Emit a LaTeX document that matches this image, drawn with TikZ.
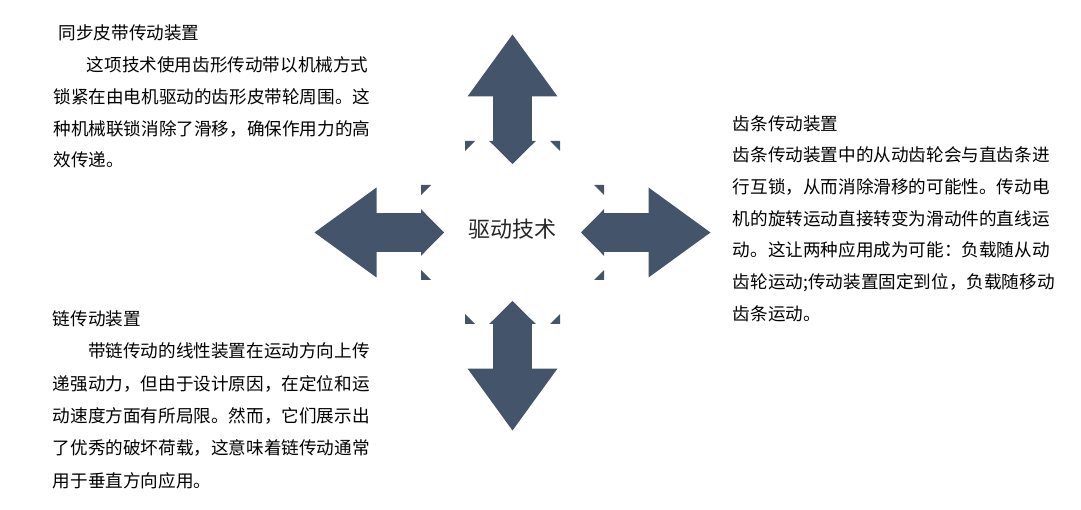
\documentclass[tikz,border=0pt]{standalone}
\usepackage{fontspec}
\setmainfont{Noto Sans CJK SC}
\definecolor{arrowblue}{HTML}{44546A}
\begin{document}
\begin{tikzpicture}[x=1pt,y=1pt,
  txt/.style={anchor=north west,inner sep=0pt,align=left,font=\fontsize{17.6}{31.7}\selectfont}]
\useasboundingbox (0,0) rectangle (1081,509);

\coordinate (hub) at (512.5,276.5);
\node[font=\fontsize{22}{26}\selectfont,text=black!85] (c) at ([yshift=3.5]hub) {驱动技术};

% the four double arrows, inner heads partly hidden
\fill[arrowblue,shift={(hub)},rotate=0] (198,0) -- (136,45) -- (136,19.3) -- (91.5,19.3) -- (91.5,23.3) -- (68.5,0) -- (91.5,-23.3) -- (91.5,-19.3) -- (136,-19.3) -- (136,-45) -- cycle;
\fill[arrowblue,shift={(hub)},rotate=90] (198,0) -- (136,45) -- (136,19.3) -- (91.5,19.3) -- (91.5,23.3) -- (68.5,0) -- (91.5,-23.3) -- (91.5,-19.3) -- (136,-19.3) -- (136,-45) -- cycle;
\fill[arrowblue,shift={(hub)},rotate=180] (198,0) -- (136,45) -- (136,19.3) -- (91.5,19.3) -- (91.5,23.3) -- (68.5,0) -- (91.5,-23.3) -- (91.5,-19.3) -- (136,-19.3) -- (136,-45) -- cycle;
\fill[arrowblue,shift={(hub)},rotate=270] (198,0) -- (136,45) -- (136,19.3) -- (91.5,19.3) -- (91.5,23.3) -- (68.5,0) -- (91.5,-23.3) -- (91.5,-19.3) -- (136,-19.3) -- (136,-45) -- cycle;

% corner bits of the hidden heads
\fill[arrowblue,shift={(hub)},rotate=0] (91.5,47.5) -- (81.5,47.5) -- (91.5,37.5) -- cycle (91.5,-47.5) -- (81.5,-47.5) -- (91.5,-37.5) -- cycle;
\fill[arrowblue,shift={(hub)},rotate=90] (91.5,47.5) -- (81.5,47.5) -- (91.5,37.5) -- cycle (91.5,-47.5) -- (81.5,-47.5) -- (91.5,-37.5) -- cycle;
\fill[arrowblue,shift={(hub)},rotate=180] (91.5,47.5) -- (81.5,47.5) -- (91.5,37.5) -- cycle (91.5,-47.5) -- (81.5,-47.5) -- (91.5,-37.5) -- cycle;
\fill[arrowblue,shift={(hub)},rotate=270] (91.5,47.5) -- (81.5,47.5) -- (91.5,37.5) -- cycle (91.5,-47.5) -- (81.5,-47.5) -- (91.5,-37.5) -- cycle;

% text blocks
\node[txt] (belt) at (53.3,484) {\hspace*{0.3em}同步皮带传动装置\\
\hspace*{1.9em}这项技术使用齿形传动带以机械方式\\
锁紧在由电机驱动的齿形皮带轮周围。这\\
种机械联锁消除了滑移，确保作用力的高\\
效传递。};

\node[txt] (rack) at (732.7,394) {齿条传动装置\\
齿条传动装置中的从动齿轮会与直齿条进\\
行互锁，从而消除滑移的可能性。传动电\\
机的旋转运动直接转变为滑动件的直线运\\
动。这让两种应用成为可能：负载随从动\\
齿轮运动;传动装置固定到位，负载随移动\\
齿条运动。};

\node[txt,font=\fontsize{17.6}{32.3}\selectfont] (chain) at (52.7,198.5) {链传动装置\\
\hspace*{2em}带链传动的线性装置在运动方向上传\\
递强动力，但由于设计原因，在定位和运\\
动速度方面有所局限。然而，它们展示出\\
了优秀的破坏荷载，这意味着链传动通常\\
用于垂直方向应用。};
\end{tikzpicture}
\end{document}
